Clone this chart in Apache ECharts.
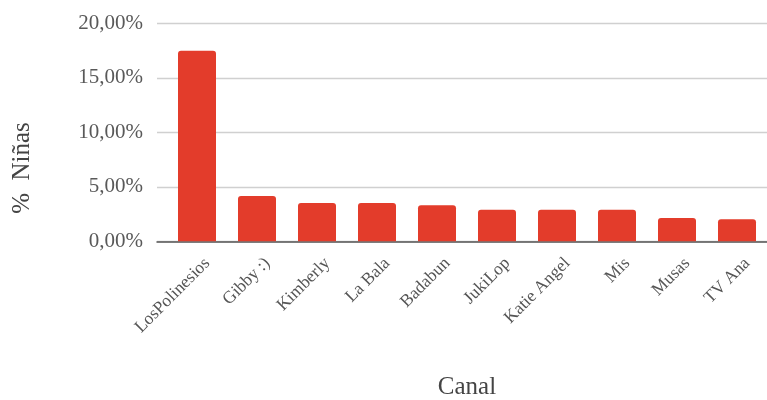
<!DOCTYPE html>
<html>
<head>
<meta charset="utf-8">
<script src="https://cdn.jsdelivr.net/npm/echarts@6/dist/echarts.min.js"></script>
<style>
html,body{margin:0;padding:0;background:#fff;}
#chart{width:767px;height:400px;}
</style>
</head>
<body>
<div id="chart"></div>
<script>
const categories = ['LosPolinesios', 'Gibby :)', 'Kimberly', 'La Bala', 'Badabun', 'JukiLop', 'Katie Angel', 'Mis', 'Musas', 'TV Ana'];
const values = [17.49, 4.16, 3.51, 3.51, 3.30, 2.90, 2.90, 2.90, 2.14, 2.02];
const yTicks = [0, 5, 10, 15, 20];

const FONT = 'Liberation Serif';
const chart = echarts.init(document.getElementById('chart'), null, {renderer: 'canvas'});
const fmt = v => v.toFixed(2).replace('.', ',') + '%';

chart.setOption({
  animation: false,
  backgroundColor: '#ffffff',
  grid: [
    {left: 167, width: 600, top: 23.3, height: 218, containLabel: false, outerBoundsMode: 'none'},
    {left: 157, width: 610, top: 23.3, height: 218, containLabel: false, outerBoundsMode: 'none'},
    {left: 171, width: 600, top: 23.3, height: 218, containLabel: false, outerBoundsMode: 'none'}
  ],
  graphic: [
    {
      type: 'text', x: 22, y: 168, rotation: Math.PI / 2,
      style: {text: '%  Niñas', fontFamily: FONT, fontSize: 25, fill: '#444444', align: 'center', verticalAlign: 'middle'}
    }
  ],
  xAxis: [
    {
      type: 'category', gridIndex: 0, data: categories,
      axisLine: {show: false}, axisTick: {show: false}, axisLabel: {show: false},
      name: 'Canal', nameLocation: 'middle', nameGap: 134,
      nameTextStyle: {fontFamily: FONT, fontSize: 25, color: '#444444'}
    },
    {
      type: 'category', gridIndex: 1, data: categories,
      axisLine: {show: true, lineStyle: {color: '#555555', width: 1.5}},
      axisTick: {show: false}, axisLabel: {show: false}
    },
    {
      type: 'category', gridIndex: 2, data: categories,
      axisLine: {show: false}, axisTick: {show: false},
      axisLabel: {rotate: 45, fontFamily: FONT, fontSize: 17.5, color: '#555555', margin: 13, interval: 0, verticalAlign: 'top'}
    }
  ],
  yAxis: [
    {
      type: 'value', gridIndex: 0, min: yTicks[0], max: yTicks[yTicks.length - 1], interval: 5,
      axisLine: {show: false}, axisTick: {show: false}, axisLabel: {show: false}, splitLine: {show: false}
    },
    {
      type: 'value', gridIndex: 1, min: yTicks[0], max: yTicks[yTicks.length - 1], interval: 5,
      axisLine: {show: false}, axisTick: {show: false},
      axisLabel: {formatter: fmt, fontFamily: FONT, fontSize: 21, color: '#595959', margin: 14},
      splitLine: {show: true, lineStyle: {color: '#d0d0d0', width: 1.3}}
    },
    {
      type: 'value', gridIndex: 2, min: yTicks[0], max: yTicks[yTicks.length - 1], interval: 5, show: false
    }
  ],
  series: [
    {
      type: 'bar', xAxisIndex: 0, yAxisIndex: 0, data: values, barWidth: 38,
      itemStyle: {color: '#e33c2b', borderRadius: [3, 3, 0, 0]},
      z: 3
    }
  ]
});
</script>
</body>
</html>
